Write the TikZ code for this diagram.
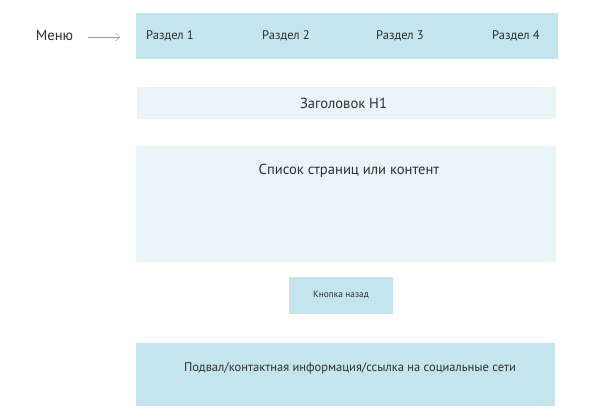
\documentclass[tikz,border=0pt]{standalone}
\usepackage{fontspec}
\setmainfont{PT Sans}
\usetikzlibrary{positioning,arrows.meta}
\definecolor{wfBlue}{RGB}{196,229,237}
\definecolor{wfPale}{RGB}{234,245,248}
\definecolor{wfText}{RGB}{45,47,52}

\begin{document}
\begin{tikzpicture}[x=1pt,y=-1pt]
	\tikzset{
		wfbox/.style={
			shape=rectangle,
			draw=none,
			fill=wfBlue,
			inner sep=0pt
		},
		wfpale/.style={
			wfbox,
			fill=wfPale
		},
		wflabel/.style={
			inner sep=0pt,
			text=wfText,
			font=\fontsize{12.5}{15}\selectfont
		},
		wfbig/.style={
			wflabel,
			font=\fontsize{14.6}{17}\selectfont
		},
		wfsmall/.style={
			wflabel,
			font=\fontsize{9.3}{11}\selectfont
		},
		wfarrow/.style={draw=gray!80, line width=0.5pt, -{Straight Barb[length=4pt,width=8pt]}}
	}
	\useasboundingbox[fill=white] (0,0) rectangle (591,418);

	% menu
	\node[wfbox, minimum width=422pt, minimum height=46pt] (menubar) at (347,36) {};
	\node[wfbig] (menu) at (54.5,35.5) {Меню};
	\coordinate (menuend) at (120,37);
	\draw[wfarrow] (88,37) coordinate (menustart) -- (menuend);
	\foreach \i/\x in {1/170,2/286,3/400,4/516}
		\node[wflabel] (item\i) at (\x,36) {Раздел \i};

	% header and content
	\node[wfpale, minimum width=419pt, minimum height=32pt] (header) at (346.5,103) {};
	\node[wfbig] (headertext) at (343.5,103) {Заголовок H1};
	\node[wfpale, minimum width=420pt, minimum height=116pt] (content) at (346,204) {};
	\node[wfbig] (contenttext) at (349,171) {Список страниц или контент};

	% back button
	\node[wfbox, minimum width=104pt, minimum height=37pt] (back) at (341,295.5) {};
	\node[wfsmall] (backtext) at (341,295) {Кнопка назад};

	% footer
	\node[wfbox, minimum width=419pt, minimum height=63pt] (footer) at (345.5,374.5) {};
	\node[wflabel] (footertext) at (350,368) {Подвал/контактная информация/ссылка на социальные сети};
\end{tikzpicture}
\end{document}
